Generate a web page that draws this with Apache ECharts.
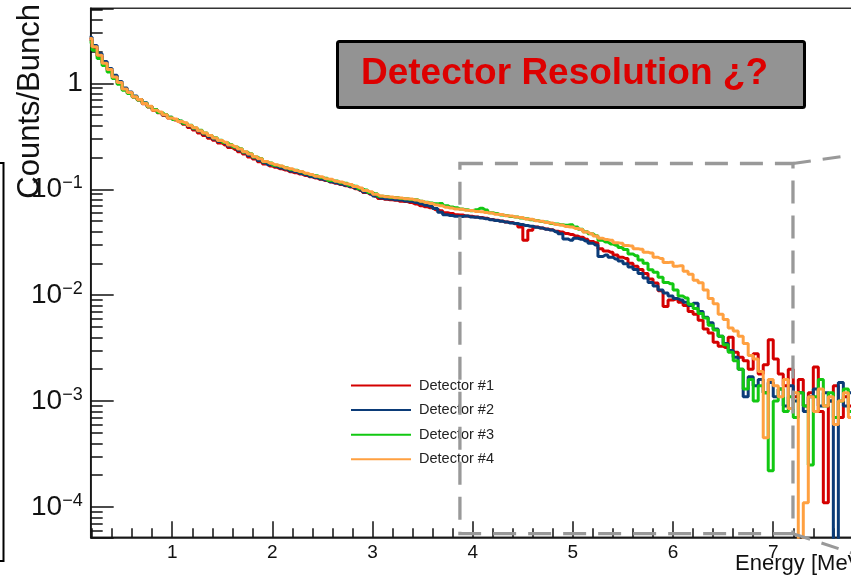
<!DOCTYPE html>
<html><head><meta charset="utf-8">
<script src="https://cdn.jsdelivr.net/npm/echarts@6/dist/echarts.min.js"></script>
<style>html,body{margin:0;padding:0;background:#fff}#c{width:851px;height:587px}</style>
</head><body><div id="c"></div>
<script>
// ---- data (histogram bins: first bin low edge 0.15 MeV, width 0.05 MeV) ----
const binLow = 0.15;
const binWidth = 0.05;
const seriesNames = ['Detector #1', 'Detector #2', 'Detector #3', 'Detector #4'];
const seriesColors = ['#d40000', '#0b3b78', '#12c812', '#ffa040'];

const det1 = [2.6, 2.18, 1.8, 1.56, 1.33, 1.16, 1.0, 0.88, 0.812, 0.745,
 0.698, 0.64, 0.598, 0.555, 0.528, 0.498, 0.47, 0.451, 0.432, 0.412,
 0.383, 0.362, 0.34, 0.322, 0.303, 0.29, 0.273, 0.262, 0.248, 0.238,
 0.226, 0.215, 0.202, 0.193, 0.182, 0.173, 0.166, 0.161, 0.156, 0.152,
 0.146, 0.143, 0.139, 0.135, 0.131, 0.128, 0.124, 0.121, 0.117, 0.114,
 0.111, 0.108, 0.105, 0.101, 0.0975, 0.093, 0.0898, 0.086, 0.082, 0.0805,
 0.0795, 0.0788, 0.077, 0.0765, 0.0748, 0.0725, 0.07, 0.0682, 0.0668, 0.0642,
 0.0628, 0.06, 0.0592, 0.0575, 0.0572, 0.056, 0.0555, 0.0548, 0.054, 0.0532,
 0.0518, 0.051, 0.0502, 0.049, 0.0485, 0.0472, 0.044, 0.033, 0.041, 0.044,
 0.0432, 0.0422, 0.0415, 0.0402, 0.0395, 0.0382, 0.0375, 0.0362, 0.0352, 0.0338,
 0.0322, 0.0312, 0.0275, 0.0262, 0.0255, 0.024, 0.0228, 0.0222, 0.02, 0.0188,
 0.0175, 0.016, 0.0142, 0.013, 0.011, 0.0078, 0.009, 0.0092, 0.0086, 0.008,
 0.007, 0.0066, 0.0058, 0.0048, 0.0044, 0.0036, 0.0033, 0.0032, 0.004, 0.0029,
 0.0026, 0.0024, 0.002, 0.0028, 0.0018, 0.0022, 0.0038, 0.0025, 0.0018, 0.0014,
 0.002, 0.0011, 0.0016, 0.0009, 0.0012, 0.0021, 0.0008, 0.00011, 0.001, 0.0014,
 0.0007, 0.0011, 0.0009, 0.0013, 0.0008, 0.0011, 0.0006];

const det2 = [2.72, 2.28, 1.9, 1.61, 1.38, 1.19, 1.04, 0.905, 0.83, 0.758,
 0.702, 0.655, 0.606, 0.565, 0.53, 0.502, 0.478, 0.455, 0.438, 0.418,
 0.396, 0.372, 0.352, 0.333, 0.314, 0.299, 0.282, 0.271, 0.256, 0.246,
 0.233, 0.221, 0.208, 0.198, 0.187, 0.178, 0.17, 0.165, 0.159, 0.155,
 0.149, 0.146, 0.141, 0.137, 0.132, 0.129, 0.125, 0.122, 0.118, 0.115,
 0.112, 0.109, 0.106, 0.102, 0.0985, 0.094, 0.0905, 0.0862, 0.0828, 0.0812,
 0.0808, 0.0795, 0.079, 0.0775, 0.077, 0.0752, 0.0728, 0.0705, 0.069, 0.066,
 0.0608, 0.0575, 0.0565, 0.0555, 0.0552, 0.056, 0.0548, 0.0545, 0.0535, 0.0528,
 0.0515, 0.0508, 0.0498, 0.049, 0.048, 0.0475, 0.0465, 0.0455, 0.0448, 0.0438,
 0.043, 0.042, 0.0412, 0.0398, 0.038, 0.034, 0.033, 0.0345, 0.0338, 0.0325,
 0.031, 0.0298, 0.0232, 0.024, 0.0228, 0.022, 0.021, 0.0198, 0.0185, 0.0175,
 0.016, 0.0145, 0.0132, 0.0122, 0.0112, 0.0105, 0.0098, 0.0093, 0.009, 0.0086,
 0.008, 0.0084, 0.007, 0.0062, 0.0055, 0.0048, 0.0041, 0.0035, 0.003, 0.0026,
 0.002, 0.0011, 0.0017, 0.0014, 0.0016, 0.0012, 0.0015, 0.0011, 0.0013, 0.0009,
 0.0014, 0.001, 0.0012, 0.0008, 0.0011, 0.0013, 0.0009, 0.0012, 0.001, 0.00003,
 0.0015, 0.0009, 0.0012, 0.0008, 0.0011, 0.0007, 0.001];

const det3 = [2.45, 2.05, 1.72, 1.47, 1.28, 1.11, 0.98, 0.862, 0.8, 0.742,
 0.695, 0.65, 0.6, 0.566, 0.53, 0.508, 0.478, 0.455, 0.441, 0.42,
 0.402, 0.378, 0.36, 0.339, 0.322, 0.306, 0.291, 0.276, 0.265, 0.25,
 0.241, 0.225, 0.216, 0.202, 0.195, 0.182, 0.177, 0.169, 0.165, 0.16,
 0.154, 0.151, 0.146, 0.141, 0.137, 0.134, 0.129, 0.127, 0.121, 0.12,
 0.115, 0.114, 0.109, 0.107, 0.101, 0.0985, 0.093, 0.0905, 0.086, 0.0855,
 0.0838, 0.0836, 0.082, 0.0815, 0.08, 0.0795, 0.077, 0.0755, 0.074, 0.0728,
 0.0735, 0.07, 0.068, 0.0668, 0.065, 0.0642, 0.0628, 0.064, 0.0662, 0.0638,
 0.06, 0.059, 0.0572, 0.0565, 0.0552, 0.0548, 0.0535, 0.0528, 0.0515, 0.0508,
 0.0497, 0.049, 0.0476, 0.047, 0.0462, 0.0458, 0.0462, 0.044, 0.042, 0.0398,
 0.038, 0.0365, 0.033, 0.0318, 0.0305, 0.0296, 0.0282, 0.027, 0.0245, 0.0236,
 0.0215, 0.02, 0.0174, 0.0165, 0.0148, 0.0132, 0.0128, 0.0112, 0.0098, 0.0094,
 0.0082, 0.0075, 0.0067, 0.0061, 0.0052, 0.0047, 0.0041, 0.0034, 0.0029, 0.0024,
 0.002, 0.0013, 0.0016, 0.001, 0.0014, 0.0012, 0.00022, 0.001, 0.0013, 0.0008,
 0.0011, 0.0007, 0.0012, 0.0009, 0.00025, 0.0011, 0.0016, 0.0009, 0.0012, 0.0007,
 0.001, 0.0013, 0.0008, 0.0011, 0.0006, 0.001, 0.0008];

const det4 = [2.65, 2.22, 1.84, 1.55, 1.35, 1.15, 1.02, 0.885, 0.82, 0.748,
 0.705, 0.645, 0.608, 0.558, 0.535, 0.506, 0.472, 0.46, 0.436, 0.425,
 0.401, 0.38, 0.357, 0.34, 0.321, 0.305, 0.289, 0.278, 0.262, 0.252,
 0.24, 0.226, 0.215, 0.203, 0.194, 0.183, 0.176, 0.17, 0.166, 0.159,
 0.156, 0.15, 0.147, 0.142, 0.138, 0.133, 0.131, 0.126, 0.124, 0.119,
 0.117, 0.113, 0.111, 0.106, 0.103, 0.0975, 0.0945, 0.0898, 0.0865, 0.085,
 0.0845, 0.083, 0.0826, 0.0812, 0.0808, 0.079, 0.0772, 0.075, 0.0735, 0.0712,
 0.0698, 0.0676, 0.0665, 0.065, 0.0648, 0.0635, 0.0631, 0.0618, 0.0615, 0.0602,
 0.0596, 0.058, 0.0577, 0.0562, 0.0558, 0.0546, 0.054, 0.0524, 0.052, 0.0505,
 0.05, 0.0486, 0.0481, 0.0465, 0.0459, 0.0445, 0.044, 0.0426, 0.0418, 0.0395,
 0.038, 0.0362, 0.0345, 0.0335, 0.033, 0.0313, 0.031, 0.0295, 0.0292, 0.0275,
 0.0272, 0.0255, 0.025, 0.0228, 0.0222, 0.0203, 0.0205, 0.0188, 0.019, 0.0168,
 0.0158, 0.0138, 0.0131, 0.0112, 0.0093, 0.0083, 0.0066, 0.0059, 0.0049, 0.0046,
 0.0041, 0.0035, 0.0027, 0.0025, 0.0019, 0.00045, 0.0016, 0.0014, 0.0011, 0.0016,
 0.00085, 0.0012, 0.00003, 0.00011, 0.0011, 0.0008, 0.0013, 0.0009, 0.0011, 0.0006,
 0.001, 0.0012, 0.0007, 0.001, 0.0005, 0.0009, 0.0007];

const detectors = [det1, det2, det3, det4];

// axes
const xRange = [0.186, 7.95];
const yRange = [5.18e-5, 5.11];
const xMajorTicks = [1, 2, 3, 4, 5, 6, 7, 8];
const xMinorTicks = [0.2, 0.4, 0.6, 0.8, 1.2, 1.4, 1.6, 1.8, 2.2, 2.4, 2.6, 2.8, 3.2, 3.4, 3.6, 3.8,
  4.2, 4.4, 4.6, 4.8, 5.2, 5.4, 5.6, 5.8, 6.2, 6.4, 6.6, 6.8, 7.2, 7.4, 7.6, 7.8];
const yMinorTicks = [6e-5, 7e-5, 8e-5, 9e-5, 2e-4, 3e-4, 4e-4, 5e-4, 6e-4, 7e-4, 8e-4, 9e-4,
  2e-3, 3e-3, 4e-3, 5e-3, 6e-3, 7e-3, 8e-3, 9e-3, 0.02, 0.03, 0.04, 0.05, 0.06, 0.07, 0.08, 0.09,
  0.2, 0.3, 0.4, 0.5, 0.6, 0.7, 0.8, 0.9, 2, 3, 4, 5];
// dashed zoom region (data coordinates)
const zoomBoxX = [3.872, 7.197];
const zoomBoxY = [5.61e-5, 0.175];

const FONT = "'Liberation Sans', Arial, Helvetica, sans-serif";
const chart = echarts.init(document.getElementById('c'), null, {renderer: 'canvas'});

const option = {
  animation: false,
  backgroundColor: '#ffffff',
  title: {
    text: 'Detector Resolution ¿?',
    left: 337, top: 41,
    padding: [13, 37, 14, 24],
    backgroundColor: '#939393',
    borderColor: '#000000', borderWidth: 3, borderRadius: 2,
    textStyle: {color: '#dd0000', fontSize: 37, fontWeight: 'bold', fontFamily: FONT, lineHeight: 40}
  },
  legend: {
    data: seriesNames, orient: 'vertical', left: 346, top: 373,
    icon: 'rect', itemWidth: 60, itemHeight: 2, itemGap: 9.6, selectedMode: false,
    textStyle: {fontSize: 14.5, color: '#222', fontFamily: FONT, lineHeight: 15, padding: [0, 0, 0, 3]}
  },
  grid: {
    left: 90.7, top: 8.3, width: 777.7, height: 529,
    show: true, borderColor: '#333', borderWidth: 1.5, backgroundColor: 'transparent',
    containLabel: false, outerBoundsMode: 'none'
  },
  xAxis: [{
    type: 'value', min: xRange[0], max: xRange[1], position: 'bottom', splitNumber: 8,
    axisLine: {onZero: false, lineStyle: {color: '#111', width: 1.6}},
    axisTick: {inside: true, length: 16, customValues: xMajorTicks, lineStyle: {color: '#111', width: 1.5}},
    axisLabel: {customValues: xMajorTicks, fontSize: 19, margin: 6, color: '#111', fontFamily: FONT},
    splitLine: {show: false}
  }, {
    type: 'value', min: xRange[0], max: xRange[1], position: 'bottom', splitNumber: 8,
    axisLine: {show: false, onZero: false},
    axisTick: {inside: true, length: 9, customValues: xMinorTicks, lineStyle: {color: '#111', width: 1.5}},
    axisLabel: {show: false},
    splitLine: {show: false}
  }],
  yAxis: [{
    type: 'log', logBase: 10, min: yRange[0], max: yRange[1], position: 'left',
    axisLine: {onZero: false, lineStyle: {color: '#111', width: 1.6}},
    axisTick: {inside: true, length: 23, lineStyle: {color: '#111', width: 1.5}},
    axisLabel: {
      margin: 8,
      formatter: function (v) {
        const l = Math.log10(v), e = Math.round(l);
        if (Math.abs(l - e) > 1e-6) return '';
        return e === 0 ? '{b|1}' : '{b|10}{s|\u2212' + (-e) + '}';
      },
      rich: {
        b: {fontSize: 28, fontFamily: FONT, color: '#111', lineHeight: 30},
        s: {fontSize: 18, fontFamily: FONT, color: '#111', lineHeight: 18, verticalAlign: 'top'}
      }
    },
    splitLine: {show: false}, minorTick: {show: false}
  }, {
    type: 'value', min: Math.log10(yRange[0]), max: Math.log10(yRange[1]), position: 'left',
    axisLine: {show: false, onZero: false},
    axisTick: {inside: true, length: 12, customValues: yMinorTicks.map(Math.log10), lineStyle: {color: '#111', width: 1.5}},
    axisLabel: {show: false},
    splitLine: {show: false}
  }],
  series: detectors.map(function (vals, k) {
    return {
      name: seriesNames[k], type: 'line', step: 'middle', xAxisIndex: 0, yAxisIndex: 0,
      symbol: 'none', showSymbol: false, clip: true,
      color: seriesColors[k],
      lineStyle: {color: seriesColors[k], width: 3},
      data: vals.map(function (v, i) { return [binLow + binWidth * (i + 0.5), v]; }),
      z: 2 + k
    };
  })
};
chart.setOption(option);

const pTL = chart.convertToPixel({xAxisIndex: 0, yAxisIndex: 0}, [zoomBoxX[0], zoomBoxY[1]]);
const pBR = chart.convertToPixel({xAxisIndex: 0, yAxisIndex: 0}, [zoomBoxX[1], zoomBoxY[0]]);
const dashStyle = {fill: null, stroke: '#999999', lineWidth: 3.3, lineDash: [23, 12]};
const gridRightX = 90.7 + 777.7;

chart.setOption({
  graphic: [
    {type: 'rect', z: 50, silent: true,
     shape: {x: pTL[0], y: pTL[1], width: pBR[0] - pTL[0], height: pBR[1] - pTL[1]},
     style: dashStyle},
    {type: 'line', z: 50, silent: true,
     shape: {x1: pBR[0], y1: pTL[1], x2: pBR[0] + 200, y2: pTL[1] - 200 * 0.144},
     style: {stroke: '#999999', lineWidth: 3, lineDash: [18, 12]}},
    {type: 'line', z: 50, silent: true,
     shape: {x1: pBR[0], y1: pBR[1], x2: pBR[0] + 200, y2: pBR[1] + 200 * 0.33},
     style: {stroke: '#999999', lineWidth: 3, lineDash: [18, 12]}},
    {type: 'text', z: 40, silent: true, x: 30, y: 4, rotation: Math.PI / 2,
     style: {text: 'Counts/Bunch', fontSize: 31, fontFamily: FONT, fill: '#111', align: 'right', verticalAlign: 'middle'}},
    {type: 'text', z: 40, silent: true, x: gridRightX, y: 553,
     style: {text: 'Energy [MeV]', fontSize: 22, fontFamily: FONT, fill: '#111', align: 'right', verticalAlign: 'top'}},
    {type: 'polyline', z: 40, silent: true,
     shape: {points: [[-5, 163], [3.5, 163], [3.5, 561], [-5, 561]]},
     style: {fill: null, stroke: '#000', lineWidth: 2}}
  ]
});
</script>
</body></html>
